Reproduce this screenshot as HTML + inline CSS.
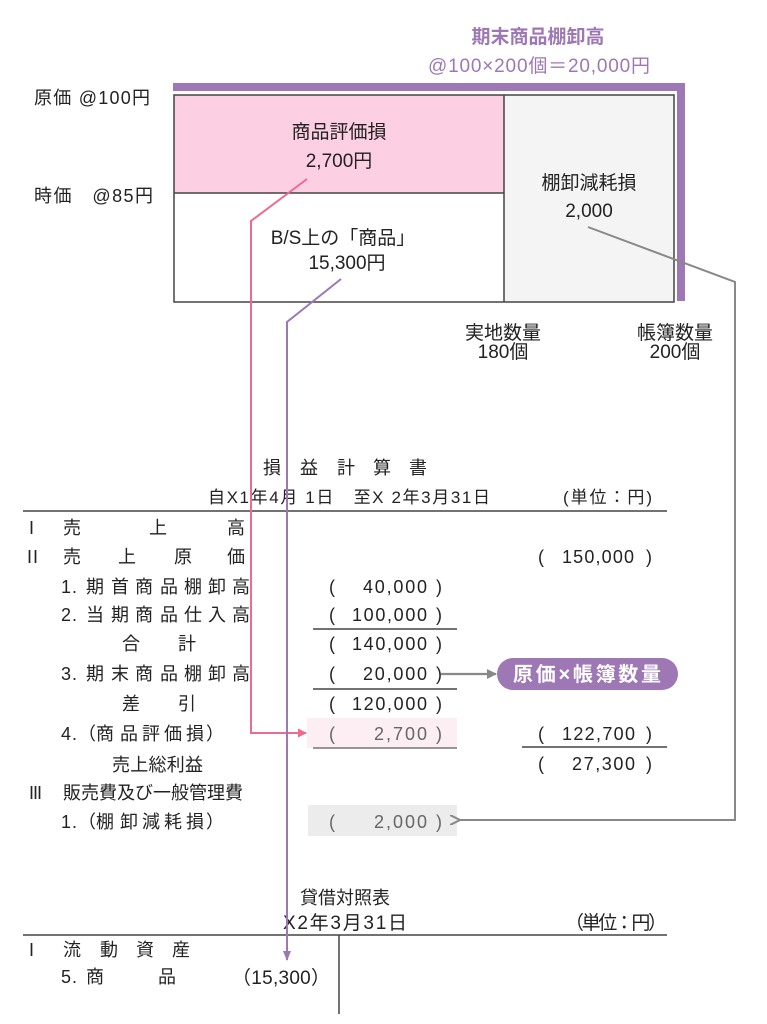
<!DOCTYPE html>
<html><head><meta charset="utf-8">
<style>
html,body{margin:0;padding:0;background:#fff;}
svg{display:block;}
text{font-family:"Liberation Sans","Noto Sans CJK JP",sans-serif;fill:#222;}
</style></head>
<body>
<svg width="767" height="1024" viewBox="0 0 767 1024" xmlns="http://www.w3.org/2000/svg">
<defs>
<marker id="ap" markerWidth="9" markerHeight="9" refX="8" refY="4.5" orient="auto" markerUnits="userSpaceOnUse"><path d="M0,0 L9,4.5 L0,9 Z" fill="#ef6a8c"/></marker>
<marker id="av" markerWidth="10" markerHeight="8" refX="9" refY="4" orient="auto" markerUnits="userSpaceOnUse"><path d="M0,0 L10,4 L0,8 Z" fill="#9e78b5"/></marker>
<marker id="ag" markerWidth="10" markerHeight="10" refX="1" refY="5" orient="auto" markerUnits="userSpaceOnUse"><path d="M10,0 L0,5 L10,10" fill="none" stroke="#888" stroke-width="2"/></marker>
<marker id="ag2" markerWidth="10" markerHeight="10" refX="9" refY="5" orient="auto" markerUnits="userSpaceOnUse"><path d="M0,0 L10,5 L0,10 Z" fill="#888"/></marker>
</defs>

<!-- Title -->
<text x="538" y="43" font-size="19" font-weight="bold" text-anchor="middle" style="fill:#9e78b5">期末商品棚卸高</text>
<text x="428" y="72" font-size="19" textLength="222" lengthAdjust="spacing" style="fill:#9e78b5">@100×200個＝20,000円</text>

<!-- purple bar -->
<rect x="173" y="83" width="512" height="8" fill="#9e78b5"/>
<rect x="677" y="83" width="8" height="218" fill="#9e78b5"/>

<!-- box -->
<rect x="174" y="95" width="330" height="98" fill="#fccfe3"/>
<rect x="504" y="95" width="170" height="207" fill="#f4f4f4"/>
<rect x="174" y="95" width="500" height="207" fill="none" stroke="#444" stroke-width="1.5"/>
<line x1="504" y1="95" x2="504" y2="302" stroke="#444" stroke-width="1.5"/>
<line x1="174" y1="193" x2="504" y2="193" stroke="#444" stroke-width="1.5"/>

<text x="34" y="104" font-size="18" textLength="116" lengthAdjust="spacing">原価 @100円</text>
<text x="34" y="202" font-size="18" textLength="119" lengthAdjust="spacing">時価　@85円</text>

<text x="339" y="138" font-size="19" text-anchor="middle">商品評価損</text>
<text x="339" y="167" font-size="19" text-anchor="middle">2,700円</text>
<text x="343" y="244" font-size="19" text-anchor="middle">B/S上の「商品」</text>
<text x="347" y="269" font-size="19" text-anchor="middle">15,300円</text>
<text x="589" y="189" font-size="19" text-anchor="middle">棚卸減耗損</text>
<text x="589" y="217" font-size="19" text-anchor="middle">2,000</text>
<text x="503" y="339" font-size="19" text-anchor="middle">実地数量</text>
<text x="503" y="358" font-size="19" text-anchor="middle">180個</text>
<text x="675" y="339" font-size="19" text-anchor="middle">帳簿数量</text>
<text x="675" y="358" font-size="19" text-anchor="middle">200個</text>

<!-- P/L header -->
<text font-size="18" x="263 300 337 373 409" y="474">損益計算書</text>
<text x="208" y="503" font-size="17" textLength="282" lengthAdjust="spacing">自X1年4月 1日　至X 2年3月31日</text>
<text x="563" y="503" font-size="17" textLength="89" lengthAdjust="spacing">(単位：円)</text>
<line x1="23" y1="511" x2="667" y2="511" stroke="#444" stroke-width="1.5"/>

<!-- P/L labels -->
<g font-size="18">
<text x="29" y="534">I</text>
<text x="63 149 227" y="534">売上高</text>
<text x="27 33" y="563">II</text>
<text x="63 118 174 227" y="563">売上原価</text>
<text x="61 72 86 111 135 160 184 208 232" y="593">1.期首商品棚卸高</text>
<text x="61 72 86 111 135 160 184 208 232" y="621">2.当期商品仕入高</text>
<text x="122 178" y="650">合計</text>
<text x="61 72 86 111 135 160 184 208 232" y="680">3.期末商品棚卸高</text>
<text x="122 178" y="710">差引</text>
<text x="61 72 78 96 120 142 164 186 206" y="740">4.（商品評価損）</text>
<text x="112" y="771" textLength="91" lengthAdjust="spacing">売上総利益</text>
<text x="29 33 37" y="799">III</text>
<text x="63" y="799" textLength="180" lengthAdjust="spacing">販売費及び一般管理費</text>
<text x="61 72 78 96 120 142 164 186 206" y="828">1.（棚卸減耗損）</text>
</g>

<!-- highlight boxes -->
<rect x="307" y="718" width="150" height="30" fill="#fdeef3"/>
<rect x="308" y="805" width="149" height="31" fill="#ececec"/>

<!-- amounts col A -->
<g font-size="18">
<text x="329" y="593">(</text><text x="363" y="593" textLength="64" lengthAdjust="spacing">40,000</text><text x="436" y="593">)</text>
<text x="329" y="621">(</text><text x="352" y="621" textLength="75" lengthAdjust="spacing">100,000</text><text x="436" y="621">)</text>
<text x="329" y="650">(</text><text x="352" y="650" textLength="75" lengthAdjust="spacing">140,000</text><text x="436" y="650">)</text>
<text x="329" y="680">(</text><text x="363" y="680" textLength="64" lengthAdjust="spacing">20,000</text><text x="436" y="680">)</text>
<text x="329" y="710">(</text><text x="352" y="710" textLength="75" lengthAdjust="spacing">120,000</text><text x="436" y="710">)</text>
<text x="329" y="740" style="fill:#666">(</text><text x="374" y="740" textLength="53" lengthAdjust="spacing" style="fill:#666">2,700</text><text x="436" y="740" style="fill:#666">)</text>
<text x="329" y="828" style="fill:#666">(</text><text x="374" y="828" textLength="53" lengthAdjust="spacing" style="fill:#666">2,000</text><text x="436" y="828" style="fill:#666">)</text>
<!-- col B -->
<text x="538" y="563">(</text><text x="562" y="563" textLength="72" lengthAdjust="spacing">150,000</text><text x="646" y="563">)</text>
<text x="538" y="740">(</text><text x="562" y="740" textLength="73" lengthAdjust="spacing">122,700</text><text x="646" y="740">)</text>
<text x="538" y="770">(</text><text x="572" y="770" textLength="63" lengthAdjust="spacing">27,300</text><text x="646" y="770">)</text>
</g>

<!-- underlines -->
<g stroke="#444" stroke-width="1.4">
<line x1="313" y1="629" x2="457" y2="629"/>
<line x1="313" y1="689" x2="457" y2="689"/>
<line x1="313" y1="748" x2="457" y2="748" stroke="#777"/>
<line x1="522" y1="747" x2="667" y2="747"/>
</g>

<!-- pill -->
<line x1="441" y1="674" x2="496" y2="674" stroke="#888" stroke-width="2.2" marker-end="url(#ag2)"/>
<rect x="497" y="658" width="181" height="32" rx="16" ry="16" fill="#9e78b5"/>
<text x="513" y="681" font-size="20" font-weight="bold" textLength="148" lengthAdjust="spacing" style="fill:#fff">原価×帳簿数量</text>

<!-- B/S -->
<text x="300" y="904" font-size="18" textLength="90" lengthAdjust="spacing">貸借対照表</text>
<text x="283" y="929" font-size="19" textLength="124" lengthAdjust="spacing">X2年3月31日</text>
<text x="565" y="929" font-size="19" textLength="102" lengthAdjust="spacing">（単位：円）</text>
<line x1="23" y1="935" x2="667" y2="935" stroke="#444" stroke-width="1.5"/>
<line x1="339" y1="935" x2="339" y2="1014" stroke="#444" stroke-width="1.5"/>
<g font-size="18">
<text x="29" y="956">I</text>
<text x="63 100 136 172" y="956">流動資産</text>
<text x="61 72 86 158" y="983">5.商品</text>
<text x="232" y="984" font-size="19" textLength="98" lengthAdjust="spacing">（15,300）</text>
</g>

<!-- connectors -->
<polyline points="307,179 251,221 251,733 306,733" fill="none" stroke="#ef6a8c" stroke-width="2" marker-end="url(#ap)"/>
<polyline points="341,279 287,322 287,960" fill="none" stroke="#9e78b5" stroke-width="2" marker-end="url(#av)"/>
<polyline points="588,227 735,282 735,820 459,820" fill="none" stroke="#888" stroke-width="2" marker-end="url(#ag)"/>
</svg>
</body></html>
